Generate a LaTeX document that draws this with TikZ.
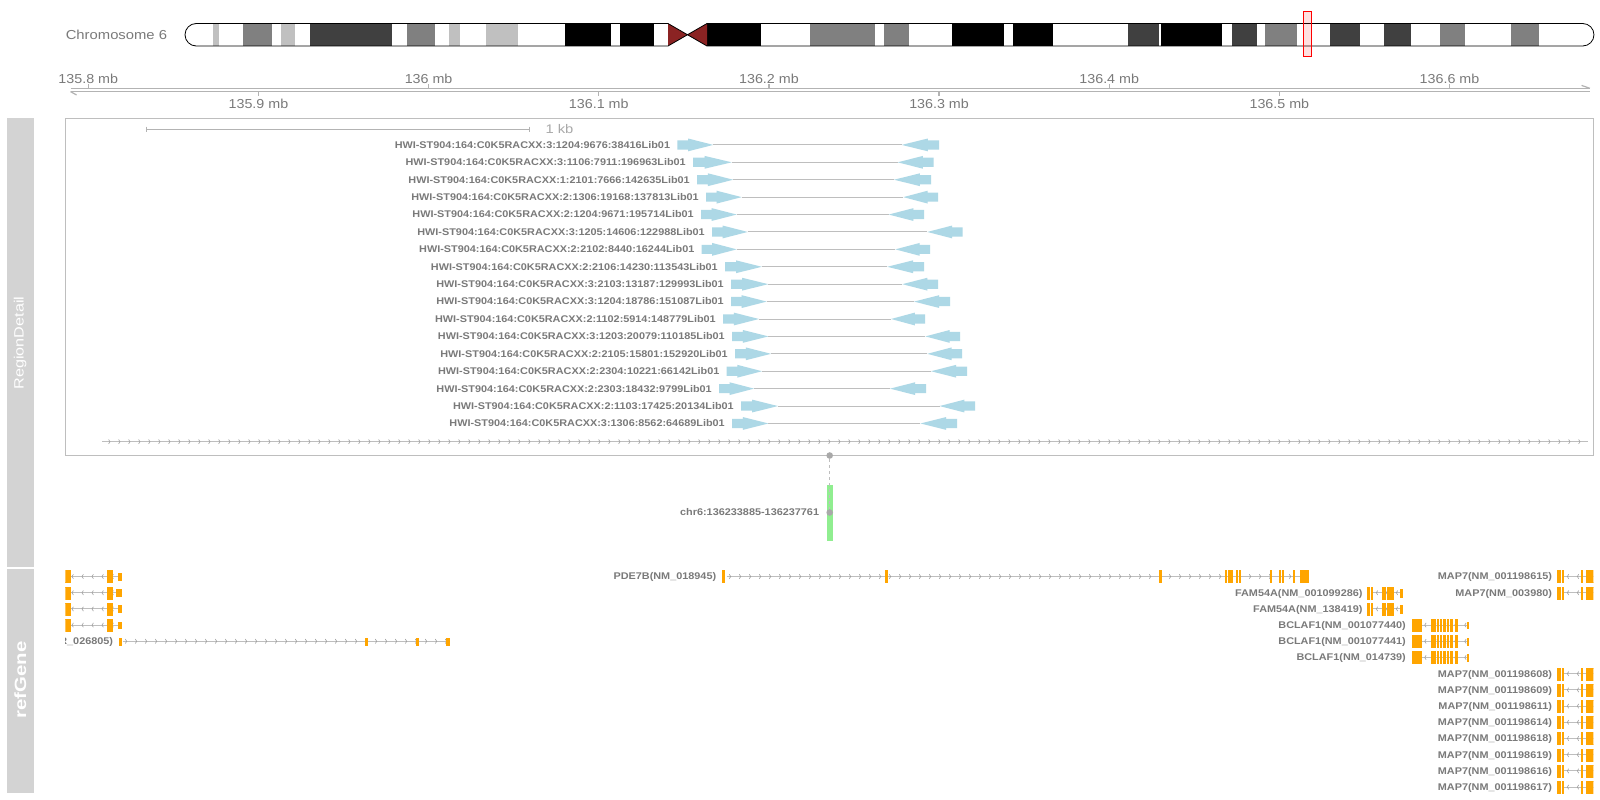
\documentclass[tikz,border=0pt]{standalone}
\usepackage{fontspec}
\setmainfont{Liberation Sans}
\usetikzlibrary{decorations.markings}
\definecolor{strip}{HTML}{D3D3D3}
\definecolor{labgrey}{HTML}{7A7A7A}
\definecolor{readblue}{HTML}{ADD8E6}
\definecolor{boxgrey}{HTML}{BEBEBE}
\definecolor{axgrey}{HTML}{B3B3B3}
\definecolor{lgrey}{HTML}{C0C0C0}
\definecolor{mgrey}{HTML}{808080}
\definecolor{dgrey}{HTML}{404040}
\definecolor{acen}{HTML}{8B2323}
\definecolor{gorange}{HTML}{FFA500}
\definecolor{hlgreen}{HTML}{90EE90}
\definecolor{dotgrey}{HTML}{A9A9A9}
\definecolor{intgrey}{HTML}{BEBEBE}
\definecolor{chevgrey}{HTML}{A0A0A0}
\newcommand{\strx}[2]{\scalebox{#1}[1]{#2}}
\newcommand{\gexon}[3]{\filldraw[exonst] (#1,#3-6) rectangle (#2,#3+6);}
\newcommand{\gutr}[3]{\filldraw[exonst] (#1,#3-3.4) rectangle (#2,#3+3.4);}
\tikzset{
  exonst/.style={fill=gorange, draw=gorange, line width=0.4},
  fwdintron/.style={draw=intgrey, line width=1.1, postaction={decorate},
    decoration={markings, mark=between positions #1 and 1 step 10pt with {\draw[chevgrey, line width=0.6] (-1.4pt,-2.2pt) -- (0pt,0pt) -- (-1.4pt,2.2pt);}}},
  fwdintron/.default=4pt,
  revintron/.style={draw=intgrey, line width=1.1, postaction={decorate},
    decoration={markings, mark=between positions #1 and 1 step 10pt with {\draw[chevgrey, line width=0.6] (1.4pt,-2.2pt) -- (0pt,0pt) -- (1.4pt,2.2pt);}}},
  revintron/.default=4pt,
  readlbl/.style={inner sep=0pt, text=labgrey, font=\fontsize{9.7}{10}\selectfont\bfseries, anchor=base east},
  axlbl/.style={inner sep=0pt, text=labgrey, font=\fontsize{13}{14}\selectfont, anchor=base},
  readline/.style={draw=boxgrey, line width=1},
  titletxt/.style={inner sep=0pt, rotate=90, text=white},
}
\begin{document}
\begin{tikzpicture}[x=1pt,y=-1pt]
\useasboundingbox (0,0) rectangle (1600,800);
\fill[white] (0,0) rectangle (1600,800);

% ---------------- ideogram ----------------
\node[anchor=base east, inner sep=0pt, text=labgrey, font=\fontsize{13}{14}\selectfont] (chrname) at (167.3,39.4) {\strx{1.14}{Chromosome 6}};
\def\chrpath{(668,23.5) -- (687.5,34.75) -- (707,23.5) -- (1582.7,23.5) arc[start angle=-90, end angle=90, radius=11.25] -- (707,46) -- (687.5,34.75) -- (668,46) -- (196.25,46) arc[start angle=90, end angle=270, radius=11.25] -- cycle}
\begin{scope}
\path[clip] \chrpath;
\fill[white] (180,20) rectangle (1600,50);
\foreach \s/\e in {213/219, 281/295, 449/460, 486/518} {\fill[lgrey] (\s,20) rectangle (\e,50);}
\foreach \s/\e in {243/272, 407/435, 810/875, 884/909, 1265/1297, 1440/1465, 1511/1539} {\fill[mgrey] (\s,20) rectangle (\e,50);}
\foreach \s/\e in {310/392, 1128/1159, 1232/1257, 1330/1360, 1384/1411} {\fill[dgrey] (\s,20) rectangle (\e,50);}
\foreach \s/\e in {565/611, 620/654, 707/761, 952/1004, 1013/1053, 1161/1222} {\fill[black] (\s,20) rectangle (\e,50);}
\end{scope}
\fill[acen] (668,23.5) -- (687.5,34.75) -- (668,46) -- cycle;
\fill[acen] (707,23.5) -- (687.5,34.75) -- (707,46) -- cycle;
\draw[black, line width=0.8] \chrpath;
\draw[red, fill=red, fill opacity=0.12, line width=0.8] (1303,11) rectangle (1311,56.5);

% ---------------- genome axis ----------------
\draw[axgrey, line width=1.2] (70.5,88.3) -- (1589.8,88.3);
\draw[axgrey, line width=1.2] (70.5,91.6) -- (1589.8,91.6);
\draw[axgrey, line width=1.2] (1589.8,88.3) -- (1581.6,85.4);
\draw[axgrey, line width=1.2] (70.5,91.6) -- (76.6,95);
\foreach \x/\t/\n in {88.3/135.8 mb/a, 428.6/136 mb/b, 768.9/136.2 mb/c, 1109.2/136.4 mb/d, 1449.5/136.6 mb/e} {
  \draw[axgrey, line width=1.2] (\x,88.3) -- (\x,84.3);
  \node[axlbl] (axu\n) at (\x,83.6) {\strx{1.1}{\t}};
}
\foreach \x/\t/\n in {258.45/135.9 mb/a, 598.75/136.1 mb/b, 939.05/136.3 mb/c, 1279.35/136.5 mb/d} {
  \draw[axgrey, line width=1.2] (\x,91.6) -- (\x,95.6);
  \node[axlbl] (axl\n) at (\x,108.6) {\strx{1.1}{\t}};
}

% ---------------- title strips ----------------
\fill[strip] (7,118.3) rectangle (33.5,567);
\fill[strip] (7,568.6) rectangle (33.5,793);
\node[titletxt, font=\fontsize{13.5}{14}\selectfont] (tRD) at (20.2,343) {\strx{1.2}{RegionDetail}};
\node[titletxt, font=\fontsize{16.3}{17}\selectfont\bfseries] (tRG) at (20.2,680) {\strx{1.25}{refGene}};

% ---------------- region detail ----------------
\draw[boxgrey, line width=1] (65.3,118.3) rectangle (1593,455.5);
\draw[axgrey, line width=1] (146.3,129.3) -- (529,129.3);
\draw[axgrey, line width=1] (146.3,126.5) -- (146.3,132.1);
\draw[axgrey, line width=1] (529,126.5) -- (529,132.1);
\node[anchor=base west, inner sep=0pt, text=dotgrey, font=\fontsize{12.5}{13}\selectfont] (kb) at (545.3,133.8) {\strx{1.18}{1 kb}};

\foreach \i/\a/\b/\c/\d/\t in {
1/677.3/713.3/901.7/939.0/HWI-ST904:164:C0K5RACXX:3:1204:9676:38416Lib01,
2/693.0/731.7/897.7/933.7/HWI-ST904:164:C0K5RACXX:3:1106:7911:196963Lib01,
3/697.0/733.3/894.0/931.0/HWI-ST904:164:C0K5RACXX:1:2101:7666:142635Lib01,
4/706.0/741.7/903.3/938.0/HWI-ST904:164:C0K5RACXX:2:1306:19168:137813Lib01,
5/701.0/736.7/888.7/924.0/HWI-ST904:164:C0K5RACXX:2:1204:9671:195714Lib01,
6/712.0/747.7/927.3/962.7/HWI-ST904:164:C0K5RACXX:3:1205:14606:122988Lib01,
7/701.7/736.7/895.3/930.0/HWI-ST904:164:C0K5RACXX:2:2102:8440:16244Lib01,
8/725.0/761.7/887.3/924.0/HWI-ST904:164:C0K5RACXX:2:2106:14230:113543Lib01,
9/731.0/768.3/902.3/938.0/HWI-ST904:164:C0K5RACXX:3:2103:13187:129993Lib01,
10/731.0/766.7/914.0/950.0/HWI-ST904:164:C0K5RACXX:3:1204:18786:151087Lib01,
11/723.0/759.0/891.0/925.0/HWI-ST904:164:C0K5RACXX:2:1102:5914:148779Lib01,
12/732.0/768.4/925.4/960.0/HWI-ST904:164:C0K5RACXX:3:1203:20079:110185Lib01,
13/735.0/771.0/927.3/962.0/HWI-ST904:164:C0K5RACXX:2:2105:15801:152920Lib01,
14/726.7/762.0/931.0/967.0/HWI-ST904:164:C0K5RACXX:2:2304:10221:66142Lib01,
15/719.0/754.0/890.0/926.0/HWI-ST904:164:C0K5RACXX:2:2303:18432:9799Lib01,
16/741.0/778.0/939.5/975.0/HWI-ST904:164:C0K5RACXX:2:1103:17425:20134Lib01,
17/732.0/768.4/920.4/957.0/HWI-ST904:164:C0K5RACXX:3:1306:8562:64689Lib01}{
  \pgfmathsetmacro\yy{144.9+17.41*(\i-1)}
  \pgfmathsetmacro\ha{\a+0.3*(\b-\a)}
  \pgfmathsetmacro\hb{\d-0.3*(\d-\c)}
  \draw[readline] (\b,\yy) -- (\c,\yy);
  \fill[readblue] (\a,\yy-4.6) -- (\ha,\yy-4.6) -- (\ha,\yy-6.4) -- (\b,\yy) -- (\ha,\yy+6.4) -- (\ha,\yy+4.6) -- (\a,\yy+4.6) -- cycle;
  \fill[readblue] (\d,\yy-4.6) -- (\hb,\yy-4.6) -- (\hb,\yy-6.4) -- (\c,\yy) -- (\hb,\yy+6.4) -- (\hb,\yy+4.6) -- (\d,\yy+4.6) -- cycle;
  \node[readlbl] (rl\i) at (\a-7,\yy+3.4) {\strx{1.12}{\t}};
}
\draw[fwdintron=8pt] (102,441.7) -- (1588,441.7);

% ---------------- highlighted feature ----------------
\fill[hlgreen] (826.9,484.6) rectangle (832.6,540.8);
\node[circle, fill=dotgrey, inner sep=0pt, minimum size=6.6pt] (hd1) at (829.7,455.5) {};
\node[circle, fill=dotgrey, inner sep=0pt, minimum size=6.6pt] (hd2) at (829.7,512.5) {};
\draw[boxgrey, line width=1, dash pattern=on 3pt off 3pt] (hd1) -- (hd2);
\node[readlbl] (chrlbl) at (819.3,515.9) {\strx{1.12}{chr6:136233885-136237761}};

% ---------------- refGene ----------------
\begin{scope}
\clip (65.3,566) rectangle (1593.3,800);
% left genes
\foreach \y/\ue in {576.5/118.5, 592.7/116, 608.9/118.5, 625.1/118.5} {
  \draw[revintron] (68,\y) -- (120,\y);
  \gexon{60}{67.3}{\y} \gexon{68.3}{70}{\y}
  \gexon{107.3}{109}{\y} \gexon{110}{111.7}{\y}
  \gutr{\ue}{120.7}{\y}
}
\node[readlbl] (g5a) at (113.3,644.7) {\strx{1.12}{(NR\_026805)}};
\draw[fwdintron] (122.7,641.3) -- (448,641.3);
\gutr{119.5}{121}{641.3} \gutr{365.5}{366.8}{641.3} \gutr{416.5}{417.8}{641.3} \gutr{446}{449}{641.3}
% PDE7B
\node[readlbl] (gPDE) at (716.4,579.9) {\strx{1.12}{PDE7B(NM\_018945)}};
\draw[fwdintron] (726.7,576.5) -- (1300.5,576.5);
\foreach \s/\e in {722.6/724, 885.3/886.7, 1159.3/1160.7, 1225/1226.3, 1227.8/1229.1, 1230.4/1231.7, 1236.3/1237.6, 1238.7/1240, 1270.3/1271.6, 1279.2/1280.5, 1282/1283.3, 1292.7/1294, 1300.5/1308.3} {\gexon{\s}{\e}{576.5}}
% FAM54A
\foreach \y/\t/\n in {592.7/FAM54A(NM\_001099286)/a, 608.9/FAM54A(NM\_138419)/b} {
  \node[readlbl] (gFAM\n) at (1362.7,\y+3.4) {\strx{1.12}{\t}};
  \draw[revintron] (1372.3,\y) -- (1400,\y);
  \foreach \s/\e in {1367.3/1368.7, 1370.7/1372.3, 1381.7/1383, 1384.3/1385.6, 1386.9/1388.2, 1389.5/1390.8, 1391.8/1393.1} {\gexon{\s}{\e}{\y}}
  \filldraw[exonst] (1400,\y-4) rectangle (1401.7,\y+4);
}
% BCLAF1
\foreach \y/\t/\n in {625.1/BCLAF1(NM\_001077440)/a, 641.3/BCLAF1(NM\_001077441)/b, 657.5/BCLAF1(NM\_014739)/c} {
  \node[readlbl] (gBCL\n) at (1406,\y+3.4) {\strx{1.12}{\t}};
  \draw[revintron] (1420.7,\y) -- (1467.3,\y);
  \foreach \s/\e in {1412.3/1420.7, 1430.7/1432, 1433.5/1434.8, 1437/1438.3, 1440/1441.3, 1443.5/1444.8, 1447/1448.3, 1450.4/1451.7, 1455.5/1456.8} {\gexon{\s}{\e}{\y}}
  \gutr{1467.2}{1468.4}{\y}
}
% MAP7
\foreach \y/\t/\n in {576.5/MAP7(NM\_001198615)/a, 592.7/MAP7(NM\_003980)/b, 673.7/MAP7(NM\_001198608)/c, 689.9/MAP7(NM\_001198609)/d, 706.1/MAP7(NM\_001198611)/e, 722.3/MAP7(NM\_001198614)/f, 738.5/MAP7(NM\_001198618)/g, 754.7/MAP7(NM\_001198619)/h, 770.9/MAP7(NM\_001198616)/i, 787.1/MAP7(NM\_001198617)/j} {
  \node[readlbl] (gMAP\n) at (1552.2,\y+3.4) {\strx{1.12}{\t}};
  \draw[revintron] (1563.3,\y) -- (1600,\y);
  \foreach \s/\e in {1557.3/1560, 1561.8/1563.3, 1581.2/1582.4, 1586/1588.2, 1589.4/1591.6, 1592.5/1596} {\gexon{\s}{\e}{\y}}
}
\end{scope}
\end{tikzpicture}
\end{document}
